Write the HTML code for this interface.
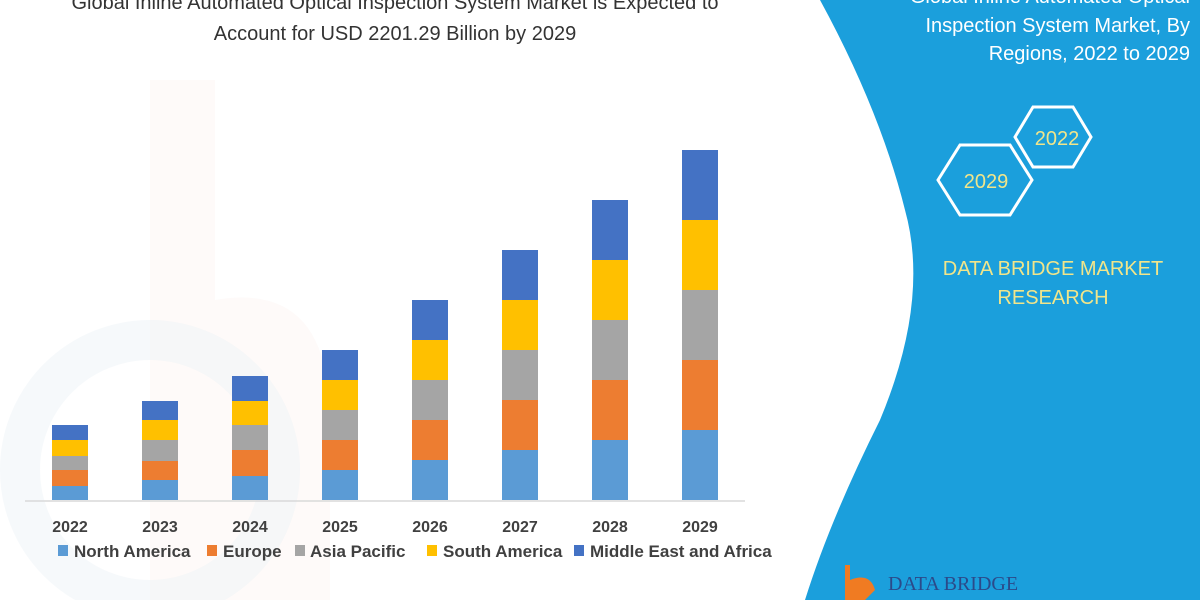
<!DOCTYPE html>
<html><head><style>
body{margin:0;width:1200px;height:600px;overflow:hidden;background:#fff;font-family:"Liberation Sans",sans-serif;}
</style></head><body>
<svg width="1200" height="600" xmlns="http://www.w3.org/2000/svg" style="position:absolute;left:0;top:0">
<rect width="1200" height="600" fill="#fff"/>
<path d="M150,80 L215,80 L215,300 Q330,280 330,420 L330,600 L150,600 Z" fill="#fbeeea" opacity="0.3"/>
<circle cx="150" cy="470" r="130" fill="none" stroke="#eef3f8" stroke-width="40" opacity="0.5"/>
<path d="M820,0 Q880,110 905,210 Q930,300 880,420 Q830,520 805,600 L1200,600 L1200,0 Z" fill="#1b9fdc"/>
<g font-size="20" fill="#333" text-anchor="middle">
<text x="395" y="9">Global Inline Automated Optical Inspection System Market is Expected to</text>
<text x="395" y="40">Account for USD 2201.29 Billion by 2029</text>
</g>
<g font-size="20" fill="#fff" text-anchor="end">
<text x="1190" y="3">Global Inline Automated Optical</text>
<text x="1190" y="32">Inspection System Market, By</text>
<text x="1190" y="60">Regions, 2022 to 2029</text>
</g>
<polygon points="1015,137 1033,107 1073,107 1091,137 1073,167 1033,167" fill="#1b9fdc" stroke="#fff" stroke-width="3"/>
<polygon points="938,180 960,145 1010,145 1032,180 1010,215 960,215" fill="#1b9fdc" stroke="#fff" stroke-width="3"/>
<g font-size="20" fill="#f1e58a" text-anchor="middle">
<text x="1057" y="145">2022</text>
<text x="986" y="188">2029</text>
<text x="1053" y="275">DATA BRIDGE MARKET</text>
<text x="1053" y="304">RESEARCH</text>
</g>
<path d="M845,565 L850,565 L850,580 Q870,572 875,590 L865,600 L845,600 Z" fill="#f07b22"/>
<text x="888" y="590" font-size="20" fill="#2b4a8a" font-family="Liberation Serif,serif">DATA BRIDGE</text>
<line x1="25" y1="501" x2="745" y2="501" stroke="#d9d9d9" stroke-width="1.5"/>
<g font-size="16" font-weight="bold" fill="#404040" text-anchor="middle">
<text x="70" y="532">2022</text><text x="160" y="532">2023</text><text x="250" y="532">2024</text><text x="340" y="532">2025</text>
<text x="430" y="532">2026</text><text x="520" y="532">2027</text><text x="610" y="532">2028</text><text x="700" y="532">2029</text>
</g>
<g font-size="17" fill="#404040" style="font-weight:600">
<rect x="58" y="545" width="10" height="11" fill="#5b9bd5"/><text x="74" y="557">North America</text>
<rect x="207" y="545" width="10" height="11" fill="#ed7d31"/><text x="223" y="557">Europe</text>
<rect x="295" y="545" width="10" height="11" fill="#a5a5a5"/><text x="310" y="557">Asia Pacific</text>
<rect x="427" y="545" width="10" height="11" fill="#ffc000"/><text x="443" y="557">South America</text>
<rect x="574" y="545" width="10" height="11" fill="#4472c4"/><text x="590" y="557">Middle East and Africa</text>
</g>
<g>
<rect x="52" y="486" width="36" height="14" fill="#5b9bd5"/><rect x="52" y="470" width="36" height="16" fill="#ed7d31"/><rect x="52" y="456" width="36" height="14" fill="#a5a5a5"/><rect x="52" y="440" width="36" height="16" fill="#ffc000"/><rect x="52" y="425" width="36" height="15" fill="#4472c4"/>
<rect x="142" y="480" width="36" height="20" fill="#5b9bd5"/><rect x="142" y="461" width="36" height="19" fill="#ed7d31"/><rect x="142" y="440" width="36" height="21" fill="#a5a5a5"/><rect x="142" y="420" width="36" height="20" fill="#ffc000"/><rect x="142" y="401" width="36" height="19" fill="#4472c4"/>
<rect x="232" y="476" width="36" height="24" fill="#5b9bd5"/><rect x="232" y="450" width="36" height="26" fill="#ed7d31"/><rect x="232" y="425" width="36" height="25" fill="#a5a5a5"/><rect x="232" y="401" width="36" height="24" fill="#ffc000"/><rect x="232" y="376" width="36" height="25" fill="#4472c4"/>
<rect x="322" y="470" width="36" height="30" fill="#5b9bd5"/><rect x="322" y="440" width="36" height="30" fill="#ed7d31"/><rect x="322" y="410" width="36" height="30" fill="#a5a5a5"/><rect x="322" y="380" width="36" height="30" fill="#ffc000"/><rect x="322" y="350" width="36" height="30" fill="#4472c4"/>
<rect x="412" y="460" width="36" height="40" fill="#5b9bd5"/><rect x="412" y="420" width="36" height="40" fill="#ed7d31"/><rect x="412" y="380" width="36" height="40" fill="#a5a5a5"/><rect x="412" y="340" width="36" height="40" fill="#ffc000"/><rect x="412" y="300" width="36" height="40" fill="#4472c4"/>
<rect x="502" y="450" width="36" height="50" fill="#5b9bd5"/><rect x="502" y="400" width="36" height="50" fill="#ed7d31"/><rect x="502" y="350" width="36" height="50" fill="#a5a5a5"/><rect x="502" y="300" width="36" height="50" fill="#ffc000"/><rect x="502" y="250" width="36" height="50" fill="#4472c4"/>
<rect x="592" y="440" width="36" height="60" fill="#5b9bd5"/><rect x="592" y="380" width="36" height="60" fill="#ed7d31"/><rect x="592" y="320" width="36" height="60" fill="#a5a5a5"/><rect x="592" y="260" width="36" height="60" fill="#ffc000"/><rect x="592" y="200" width="36" height="60" fill="#4472c4"/>
<rect x="682" y="430" width="36" height="70" fill="#5b9bd5"/><rect x="682" y="360" width="36" height="70" fill="#ed7d31"/><rect x="682" y="290" width="36" height="70" fill="#a5a5a5"/><rect x="682" y="220" width="36" height="70" fill="#ffc000"/><rect x="682" y="150" width="36" height="70" fill="#4472c4"/>
</g>
</svg>
</body></html>
